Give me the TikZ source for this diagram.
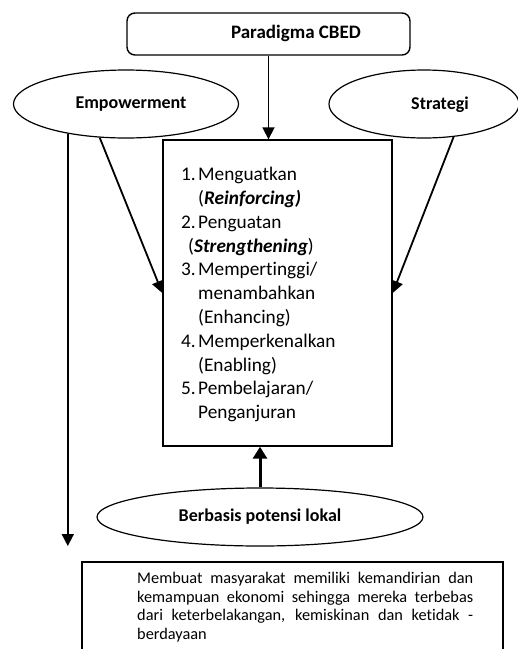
\documentclass[tikz,border=0pt]{standalone}
\usepackage{fontspec}
\setmainfont{Carlito}[Ligatures={NoCommon}]
\usetikzlibrary{arrows.meta,shapes.geometric}
\begin{document}
\begin{tikzpicture}[x=1pt,y=-1pt,
  lbl/.style={font=\fontsize{18}{22}\selectfont\bfseries},
  oval/.style={draw,ellipse,line width=1.2pt,inner sep=0pt,minimum height=68pt},
  arr/.style={line width=1.8pt,-{Triangle[length=12pt,width=12pt]}},
  thickarr/.style={line width=3pt,-{Triangle[length=12pt,width=14pt]}}
 ]
\useasboundingbox (0,0) rectangle (518,649);
% top box
\node[draw,rounded corners=8pt,line width=1.4pt,minimum width=283pt,minimum height=42pt,inner sep=0pt] (top) at (268.5,34) {};
\node[lbl,font=\fontsize{19}{22}\selectfont\bfseries] (toplbl) at (296,33) {Paradigma CBED};
% ellipses
\node[oval,lbl,minimum width=225pt] (emp) at (126,104) {\hspace*{10pt}Empowerment};
\node[oval,minimum width=190pt] (str) at (424,104) {};
\node[lbl] (strlbl) at (440,105) {Strategi};
\node[oval,lbl,minimum width=326pt,minimum height=58pt] (berb) at (260,517) {Berbasis potensi lokal};
% main box
\node[draw,line width=1.4pt,minimum width=229pt,minimum height=306pt,inner sep=0pt] (box) at (277.5,293) {};
\node[anchor=north west,inner sep=0pt,align=left,font=\fontsize{19.3}{23.8}\selectfont] (items) at (181,167) {%
\makebox[17pt][l]{1.}Menguatkan\\
\hspace*{17pt}(\textbf{\textit{Reinforcing)}}\\
\makebox[17pt][l]{2.}Penguatan\\
\hspace*{7pt}(\textbf{\textit{Strengthening}})\\
\makebox[17pt][l]{3.}Mempertinggi/\\
\hspace*{17pt}menambahkan\\
\hspace*{17pt}(Enhancing)\\
\makebox[17pt][l]{4.}Memperkenalkan\\
\hspace*{17pt}(Enabling)\\
\makebox[17pt][l]{5.}Pembelajaran/\\
\hspace*{17pt}Penganjuran};
% bottom box
\node[draw,line width=2.5pt,minimum width=421pt,minimum height=92pt,inner sep=0pt] (goal) at (292.5,608) {};
\node[anchor=north west,text width=336pt,align=justify,inner sep=0pt,font=\fontsize{16.3}{18.6}\selectfont] (goaltxt) at (137,572) {%
Membuat masyarakat memiliki kemandirian dan\linebreak
kemampuan ekonomi sehingga mereka terbebas\linebreak
dari keterbelakangan, kemiskinan dan ketidak -\linebreak
berdayaan};
% connectors
\draw[arr] (top.south) -- (top.south |- box.north);
\draw[arr] (emp.232) -- (box.west);
\draw[arr] (str.312) -- (box.east);
\draw[thickarr] (berb.north) -- (berb.north |- box.south);
\coordinate (lend) at (68,546);
\draw[arr] (emp.207) -- (emp.207 |- lend);
\end{tikzpicture}
\end{document}
